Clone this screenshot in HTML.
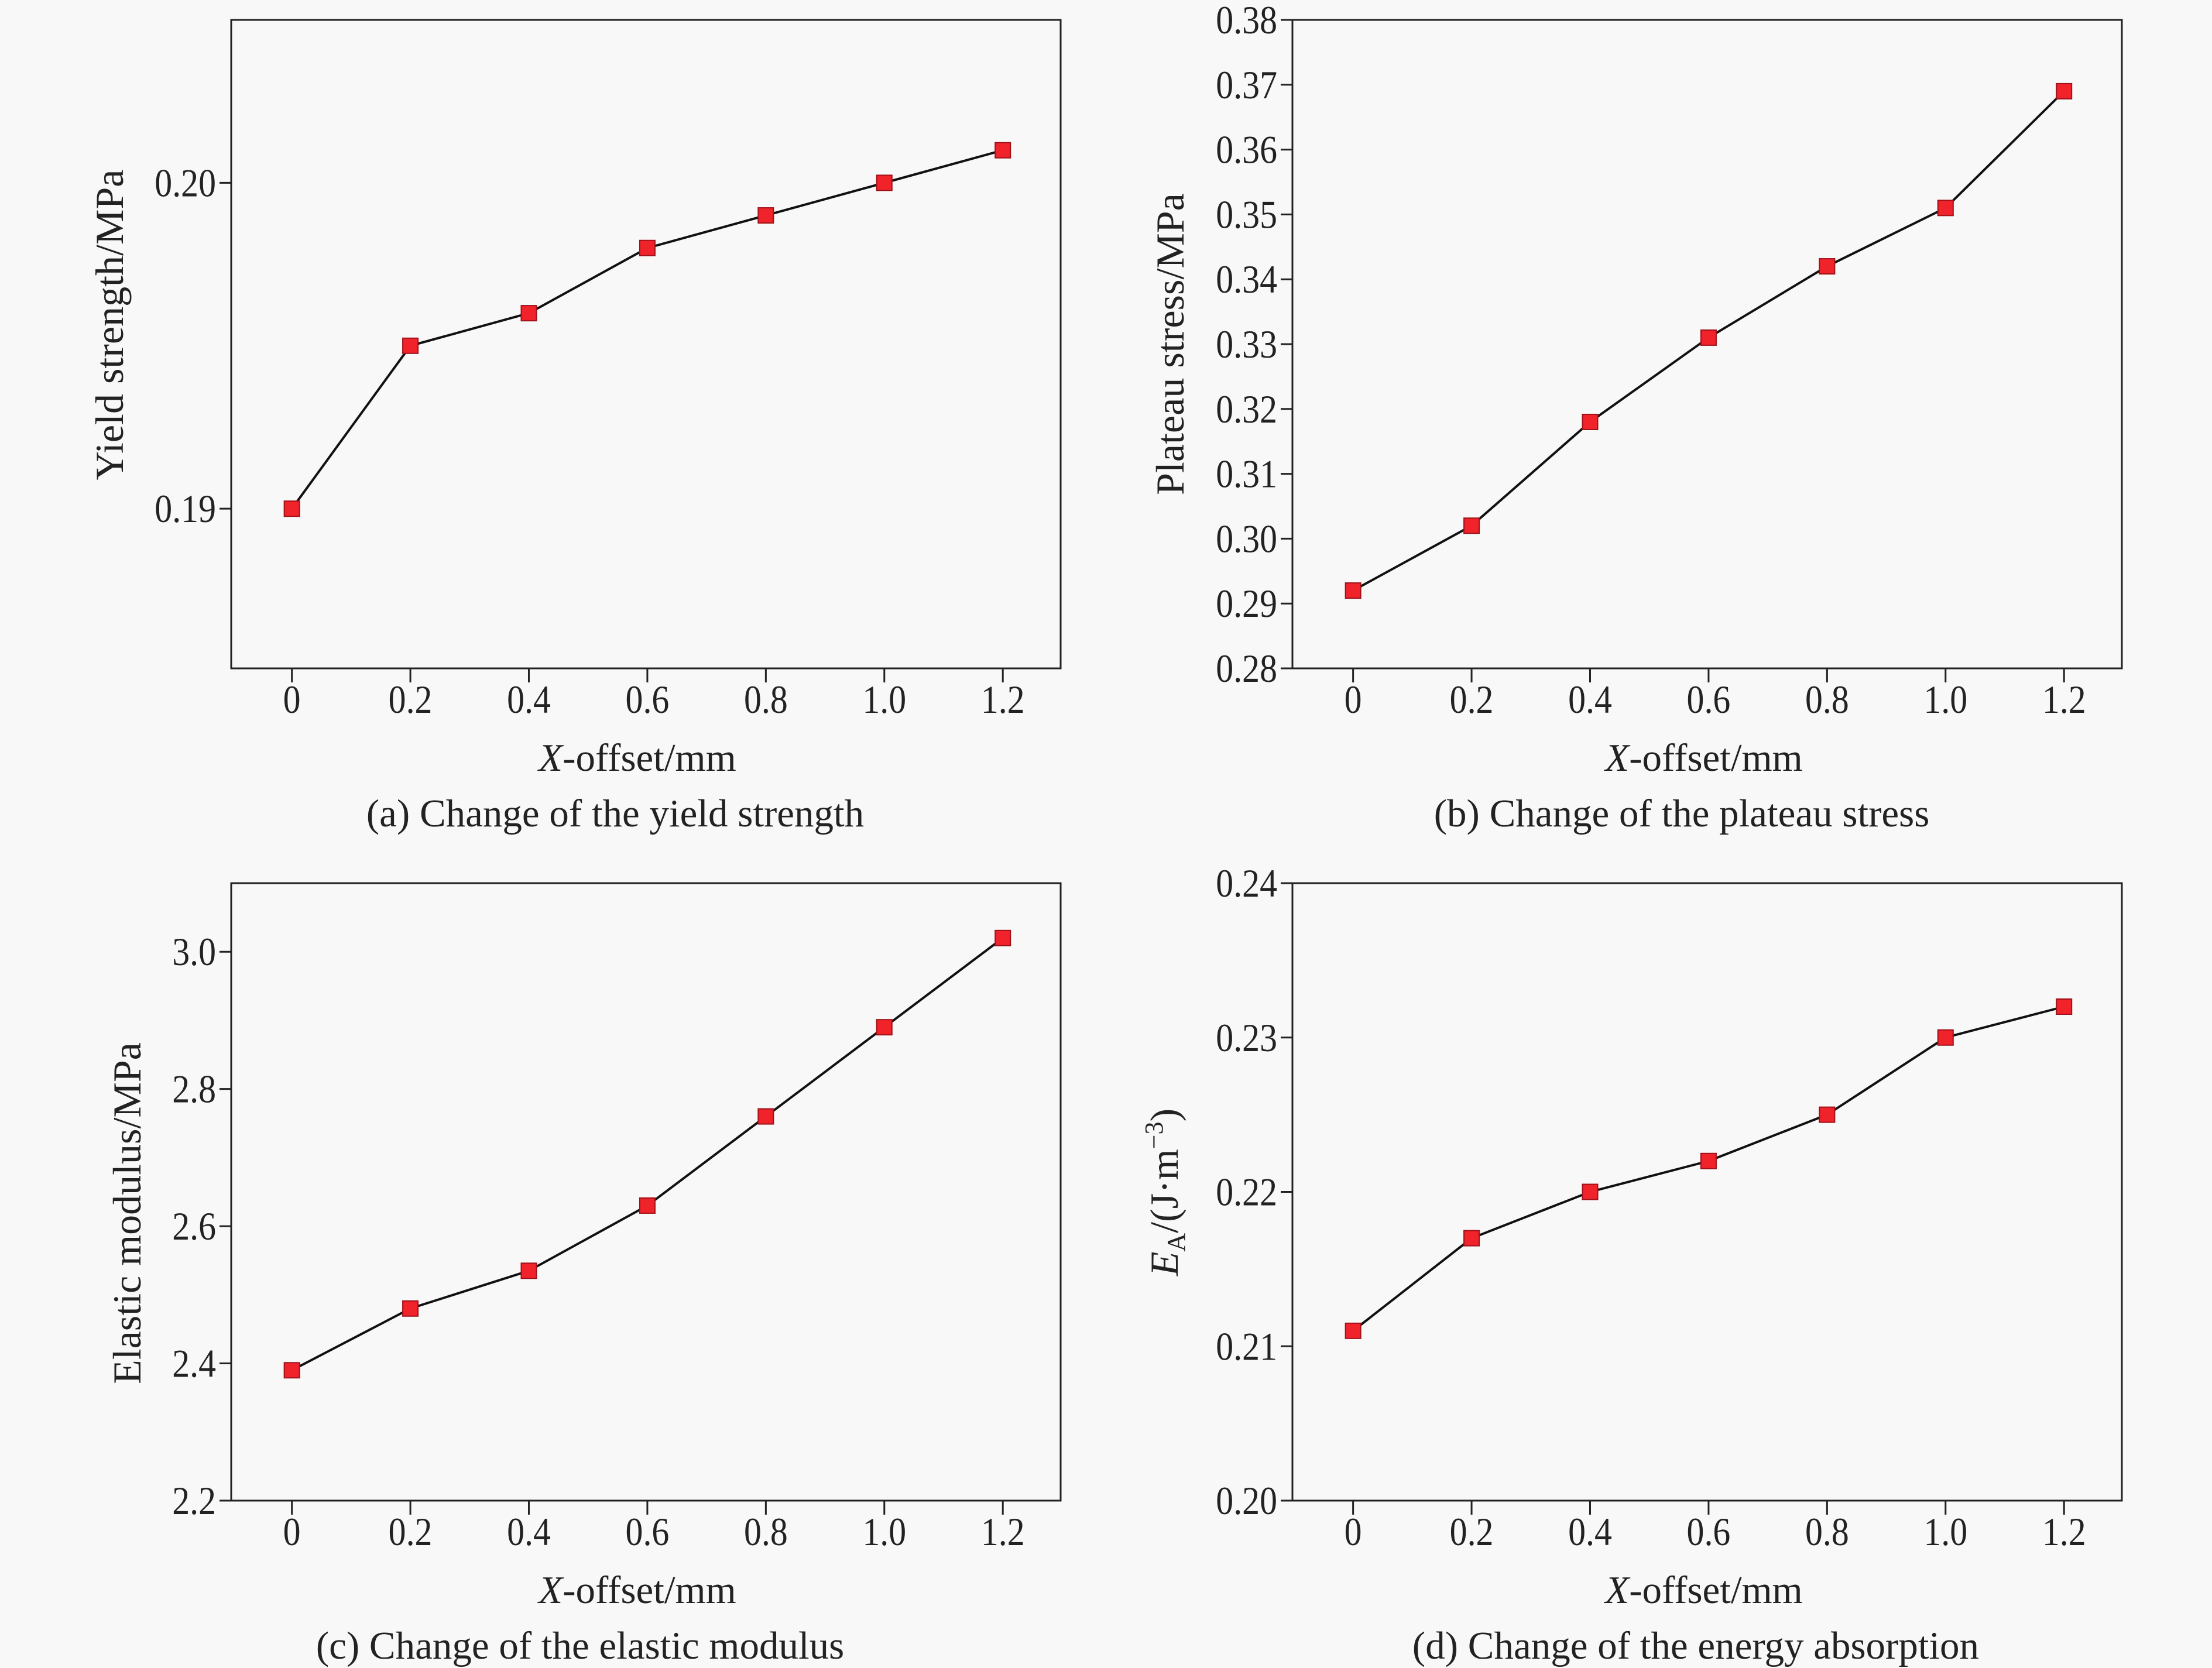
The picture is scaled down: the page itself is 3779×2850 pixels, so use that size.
<!DOCTYPE html>
<html><head><meta charset="utf-8"><style>
html,body{margin:0;padding:0;background:#f8f8f8;}
svg{display:block;font-family:"Liberation Serif",serif;}
</style></head><body>
<svg id="fig" width="3779" height="2850" viewBox="0 0 3779 2850">
<rect width="3779" height="2850" fill="#f8f8f8"/>
</svg>
<script>
const xCategories=[0,0.2,0.4,0.6,0.8,1.0,1.2];
const xTickLabels=["0","0.2","0.4","0.6","0.8","1.0","1.2"];
const yieldValues=[0.190,0.195,0.196,0.198,0.199,0.200,0.201];
const yieldTicks=[0.19,0.20];
const yieldTickLabels=["0.19","0.20"];
const plateauValues=[0.292,0.302,0.318,0.331,0.342,0.351,0.369];
const plateauTicks=[0.28,0.29,0.30,0.31,0.32,0.33,0.34,0.35,0.36,0.37,0.38];
const plateauTickLabels=["0.28","0.29","0.30","0.31","0.32","0.33","0.34","0.35","0.36","0.37","0.38"];
const modulusValues=[2.39,2.48,2.535,2.63,2.76,2.89,3.02];
const modulusTicks=[2.2,2.4,2.6,2.8,3.0];
const modulusTickLabels=["2.2","2.4","2.6","2.8","3.0"];
const energyValues=[0.211,0.217,0.220,0.222,0.225,0.230,0.232];
const energyTicks=[0.20,0.21,0.22,0.23,0.24];
const energyTickLabels=["0.20","0.21","0.22","0.23","0.24"];

const NS="http://www.w3.org/2000/svg";
const svg=document.getElementById('fig');
function mk(tag,attrs,parent){const e=document.createElementNS(NS,tag);for(const k in attrs)e.setAttribute(k,attrs[k]);(parent||svg).appendChild(e);return e;}

const panels=[
 {id:'a',L:395,R:1812,T:34,B:1142,ymin:0.1851,ymax:0.205,vals:yieldValues,ticks:yieldTicks,tl:yieldTickLabels,title:'Yield strength/MPa',tx:188,ty:555,cap:'(a) Change of the yield strength',cx:1051,xx:1089},
 {id:'b',L:2208,R:3625,T:34,B:1142,ymin:0.28,ymax:0.38,vals:plateauValues,ticks:plateauTicks,tl:plateauTickLabels,title:'Plateau stress/MPa',tx:2000,ty:588,cap:'(b) Change of the plateau stress',cx:2873,xx:2911},
 {id:'c',L:395,R:1812,T:1509,B:2564,ymin:2.2,ymax:3.1,vals:modulusValues,ticks:modulusTicks,tl:modulusTickLabels,title:'Elastic modulus/MPa',tx:218,ty:2073,cap:'(c) Change of the elastic modulus',cx:991,xx:1089},
 {id:'d',L:2208,R:3625,T:1509,B:2564,ymin:0.20,ymax:0.24,vals:energyValues,ticks:energyTicks,tl:energyTickLabels,title:null,tx:1990,ty:2037,cap:'(d) Change of the energy absorption',cx:2897,xx:2911}
];
const XMIN=-0.1024,XMAX=1.2976;

panels.forEach(p=>{
 const g=mk('g',{});
 
 
 const xs=v=>p.L+(v-XMIN)/(XMAX-XMIN)*(p.R-p.L);
 const ys=v=>p.B-(v-p.ymin)/(p.ymax-p.ymin)*(p.B-p.T);
 const frame=mk('rect',{x:p.L,y:p.T,width:p.R-p.L,height:p.B-p.T,fill:'none',stroke:'#222',"stroke-width":3},g);
 
 
 xCategories.forEach((c,i)=>{
  const x=xs(c);
  mk('line',{x1:x,y1:p.B,x2:x,y2:p.B+24,stroke:'#222',"stroke-width":3},g);
  const t=mk('text',{x:0,y:0,"font-size":68,"text-anchor":"middle",fill:'#222',transform:'translate('+x+','+(p.B+76)+') scale(0.88,1)'},g);
  t.textContent=xTickLabels[i];
  
  
 });
 p.ticks.forEach((v,i)=>{
  const y=ys(v);
  mk('line',{x1:p.L-20,y1:y,x2:p.L,y2:y,stroke:'#222',"stroke-width":3},g);
  const t=mk('text',{x:0,y:0,"font-size":68,"text-anchor":"end",fill:'#222',transform:'translate('+(p.L-26)+','+(y+23)+') scale(0.88,1)'},g);
  t.textContent=p.tl[i];
  
  
 });
 const pts=p.vals.map((v,i)=>xs(xCategories[i])+','+ys(v)).join(' ');
 const line=mk('polyline',{points:pts,fill:'none',stroke:'#111',"stroke-width":4},g);
 
 
 p.vals.forEach((v,i)=>{
  const m=mk('rect',{x:xs(xCategories[i])-13,y:ys(v)-13,width:26,height:26,fill:'#f0232b',stroke:'#a01018',"stroke-width":2},g);
  
  
 });
 const xt=mk('text',{x:p.xx,y:p.B+175,"font-size":67,"text-anchor":"middle",fill:'#222'},g);
 xt.innerHTML='<tspan font-style="italic">X</tspan>-offset/mm';
 
 
 const cap=mk('text',{x:p.cx,y:p.B+270,"font-size":67,"text-anchor":"middle",fill:'#222'},g);
 cap.textContent=p.cap;
 
 
 const yt=mk('text',{x:0,y:0,"font-size":68,"text-anchor":"middle",fill:'#222',transform:'translate('+(p.tx+22)+','+p.ty+') rotate(-90)'},g);
 if(p.title){yt.textContent=p.title;}
 else{yt.innerHTML='<tspan font-style="italic">E</tspan><tspan font-size="44" dy="12">A</tspan><tspan dy="-12">/(J·m</tspan><tspan font-size="44" dy="-26">−3</tspan><tspan dy="26">)</tspan>';}
 
 
});
</script>
</body></html>
